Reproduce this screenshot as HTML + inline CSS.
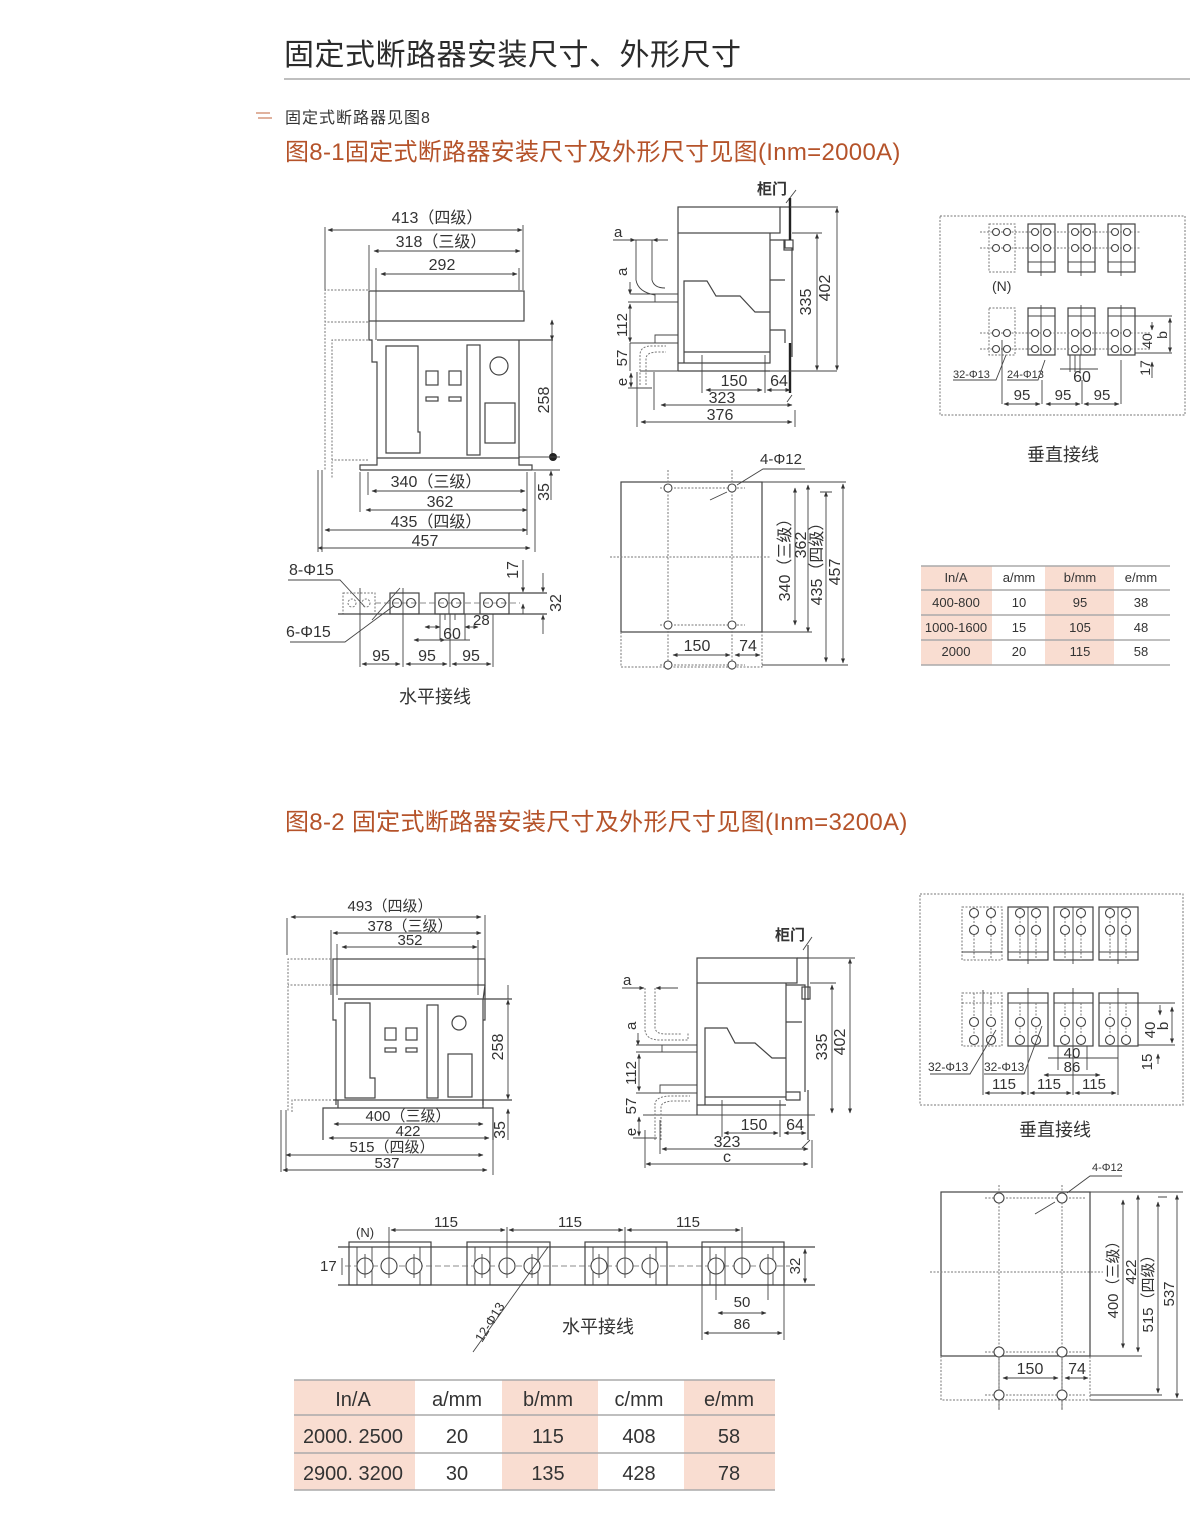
<!DOCTYPE html>
<html><head><meta charset="utf-8"><style>
html,body{margin:0;padding:0;background:#fff}
svg{display:block}
text{font-family:"Liberation Sans","Noto Sans CJK SC",sans-serif;fill:#333}
.l{stroke:#444;stroke-width:1.2;fill:none}
.t{stroke:#444;stroke-width:0.9;fill:none}
.k{stroke:#222;stroke-width:2.4;fill:none}
.dt{stroke:#777;stroke-width:1;fill:none;stroke-dasharray:2 1.5}
.ds{stroke:#666;stroke-width:0.8;fill:none;stroke-dasharray:6 3}
.d{stroke:#444;stroke-width:0.9;fill:none;marker-start:url(#a);marker-end:url(#a)}
.de{stroke:#444;stroke-width:0.9;fill:none;marker-end:url(#a)}
.c{fill:#fff;stroke:#444;stroke-width:1.1}
.pk{fill:#f9ddd1}
</style></head><body>
<svg width="1200" height="1532" viewBox="0 0 1200 1532" xmlns="http://www.w3.org/2000/svg">
<defs>
<marker id="a" viewBox="0 0 10 10" refX="9" refY="5" markerWidth="7" markerHeight="5" orient="auto-start-reverse" markerUnits="userSpaceOnUse"><path d="M0,1 L10,5 L0,9 z" fill="#333"/></marker>
</defs>

<!-- Header -->
<text x="284" y="65" font-size="30" style="fill:#2b2b2b;letter-spacing:0.5px">固定式断路器安装尺寸、外形尺寸</text>
<line x1="284" y1="79" x2="1190" y2="79" stroke="#aaa" stroke-width="1.5"/>
<line x1="256" y1="113" x2="270" y2="113" stroke="#c0663e" stroke-width="1"/>
<line x1="258" y1="118" x2="272" y2="118" stroke="#c0663e" stroke-width="1"/>
<text x="285" y="123" font-size="16" style="letter-spacing:1px">固定式断路器见图8</text>
<text x="285" y="160" font-size="24" style="fill:#b5532a;letter-spacing:0.3px">图8-1固定式断路器安装尺寸及外形尺寸见图(Inm=2000A)</text>

<!-- ===== Front view 1 ===== -->
<g>
<text x="437" y="223" font-size="16" text-anchor="middle">413（四级）</text>
<line class="d" x1="328" y1="230" x2="522" y2="230"/>
<text x="441" y="247" font-size="16" text-anchor="middle">318（三级）</text>
<line class="d" x1="374" y1="251" x2="520" y2="251"/>
<text x="442" y="270" font-size="16" text-anchor="middle">292</text>
<line class="d" x1="381" y1="274" x2="517" y2="274"/>
<line class="t" x1="325" y1="227" x2="325" y2="290"/>
<line class="t" x1="369" y1="245" x2="369" y2="290"/>
<line class="t" x1="376" y1="268" x2="376" y2="340"/>
<line class="t" x1="519" y1="268" x2="519" y2="290"/>
<line class="t" x1="523" y1="225" x2="523" y2="290"/>
<rect class="l" x="369" y="291" width="155" height="30"/>
<path class="l" d="M369,321 V340 L372,340 V362 L377,362 V458 M377,340 H519 V458 M519,340 H553"/>
<path class="l" d="M377,458 H519 L519,465 L532,465 L532,470 M377,458 L377,465 L360,465 L360,470 M360,470 H532"/>
<path class="dt" d="M368,290 H325 V470 M368,322 H325 M368,340 H332 V478 M368,460 H332"/>
<path class="l" d="M386,346 H418 V432 H420 V453 H386 Z"/>
<rect class="l" x="426" y="371" width="12" height="14"/>
<rect class="l" x="449" y="371" width="12" height="14"/>
<rect class="l" x="426" y="397" width="12" height="4"/>
<rect class="l" x="449" y="397" width="12" height="4"/>
<rect class="l" x="467" y="345" width="13" height="110"/>
<circle class="l" cx="499" cy="366" r="9"/>
<rect class="l" x="485" y="403" width="30" height="40"/>
<line class="d" x1="552" y1="320" x2="552" y2="340"/>
<line class="t" x1="552" y1="340" x2="552" y2="458"/>
<circle cx="553" cy="457" r="4" fill="#222"/>
<line class="t" x1="519" y1="457" x2="560" y2="457"/>
<text transform="translate(549,400) rotate(-90)" font-size="16" text-anchor="middle">258</text>
<line class="t" x1="532" y1="470" x2="560" y2="470"/>
<line class="de" x1="551" y1="500" x2="551" y2="471"/>
<text transform="translate(549,492) rotate(-90)" font-size="16" text-anchor="middle">35</text>
<text x="436" y="487" font-size="16" text-anchor="middle">340（三级）</text>
<line class="d" x1="372" y1="491" x2="525" y2="491"/>
<text x="440" y="507" font-size="16" text-anchor="middle">362</text>
<line class="d" x1="366" y1="510" x2="527" y2="510"/>
<text x="436" y="527" font-size="16" text-anchor="middle">435（四级）</text>
<line class="d" x1="325" y1="530" x2="527" y2="530"/>
<text x="425" y="546" font-size="16" text-anchor="middle">457</text>
<line class="d" x1="318" y1="548" x2="530" y2="548"/>
<path class="t" d="M318,470 V552 M322,470 V552 M360,472 V512 M368,472 V495 M527,472 V535 M535,472 V552"/>
</g>

<!-- ===== Horizontal wiring 1 ===== -->
<g>
<text x="289" y="575" font-size="16">8-Φ15</text>
<text x="286" y="637" font-size="16">6-Φ15</text>
<path class="t" d="M288,580 H340 L365,607 M372,620 L400,588 M290,642 H345 L395,605 M345,642 L340,642"/>
<rect class="dt" x="343" y="593" width="32" height="21"/>
<circle class="dt" cx="352" cy="603" r="4"/><circle class="dt" cx="366" cy="603" r="4"/>
<rect class="l" x="390" y="593" width="29" height="21"/>
<circle class="c" cx="397" cy="603" r="4.5"/><circle class="c" cx="411" cy="603" r="4.5"/>
<rect class="l" x="435" y="593" width="29" height="21"/>
<circle class="c" cx="443" cy="603" r="4.5"/><circle class="c" cx="456" cy="603" r="4.5"/>
<line class="t" x1="449" y1="593" x2="449" y2="614"/>
<rect class="l" x="480" y="593" width="29" height="21"/>
<circle class="c" cx="488" cy="603" r="4.5"/><circle class="c" cx="501" cy="603" r="4.5"/>
<line class="ds" x1="375" y1="603" x2="520" y2="603"/>
<path class="l" d="M338,614 H547 M509,593 H547"/>
<path class="t" d="M360,588 V667 M403,588 V667 M450,614 V667 M493,614 V667 M440,614 V640 M465,614 V640 M445,614 V620 M455,614 V620"/>
<line class="d" x1="425" y1="627" x2="440" y2="627"/>
<line class="d" x1="465" y1="627" x2="478" y2="627"/>
<text x="473" y="625" font-size="15">28</text>
<line class="d" x1="414" y1="640" x2="445" y2="640"/>
<text x="452" y="639" font-size="16" text-anchor="middle">60</text>
<line class="t" x1="440" y1="640" x2="470" y2="640"/>
<text x="381" y="661" font-size="16" text-anchor="middle">95</text>
<text x="427" y="661" font-size="16" text-anchor="middle">95</text>
<text x="471" y="661" font-size="16" text-anchor="middle">95</text>
<line class="d" x1="362" y1="664" x2="400" y2="664"/>
<line class="d" x1="406" y1="664" x2="447" y2="664"/>
<line class="d" x1="452" y1="664" x2="491" y2="664"/>
<line class="de" x1="523" y1="560" x2="523" y2="592"/>
<line class="de" x1="523" y1="614" x2="523" y2="604"/>
<text transform="translate(518,570) rotate(-90)" font-size="16" text-anchor="middle">17</text>
<line class="de" x1="543" y1="573" x2="543" y2="592"/>
<line class="de" x1="543" y1="634" x2="543" y2="615"/>
<text transform="translate(561,603) rotate(-90)" font-size="16" text-anchor="middle">32</text>
<text x="435" y="703" font-size="18" text-anchor="middle">水平接线</text>
</g>

<!-- ===== Side view 1 ===== -->
<g>
<text x="757" y="194" font-size="15" font-weight="bold">柜门</text>
<line class="t" x1="786" y1="203" x2="796" y2="190"/>
<rect class="l" x="678" y="207" width="102" height="26"/>
<path class="l" d="M780,207 H790 M780,233 V233"/>
<path class="l" d="M678,233 V363 H770 V233 M678,363 V371 M770,240 H785 V248 H792 V357 M770,240 V280 H785 M770,330 H785 V343 M678,371 H770"/>
<rect class="l" x="784" y="240" width="9" height="10"/>
<line class="k" x1="790" y1="198" x2="790" y2="240"/>
<line class="k" x1="790" y1="343" x2="790" y2="393"/>
<path class="l" d="M684,363 V281 H707 L716,296 H740 L755,312 H770 M684,352 H770"/>
<path class="t" d="M640,371 H837 M790,207 H838 M792,233 H822"/>
<line class="d" x1="837" y1="208" x2="837" y2="370"/>
<text transform="translate(830,288) rotate(-90)" font-size="16" text-anchor="middle">402</text>
<line class="d" x1="817" y1="234" x2="817" y2="370"/>
<text transform="translate(811,302) rotate(-90)" font-size="16" text-anchor="middle">335</text>
<path class="t" d="M702,355 V393 M765,355 V393 M792,395 L787,402"/>
<line class="d" x1="706" y1="390" x2="762" y2="390"/>
<text x="734" y="386" font-size="16" text-anchor="middle">150</text>
<line class="d" x1="767" y1="390" x2="790" y2="390"/>
<text x="779" y="386" font-size="16" text-anchor="middle">64</text>
<line class="d" x1="661" y1="405" x2="792" y2="405"/>
<text x="722" y="403" font-size="16" text-anchor="middle">323</text>
<line class="d" x1="641" y1="422" x2="792" y2="422"/>
<text x="720" y="420" font-size="16" text-anchor="middle">376</text>
<path class="t" d="M654,372 V410 M637,372 V427 M795,410 V427"/>
<path class="t" d="M613,240 H668 M636,240 V280 Q638,292 655,295 M652,240 V280 Q654,288 665,288"/>
<line class="de" x1="613" y1="240" x2="635" y2="240"/>
<line class="de" x1="665" y1="240" x2="653" y2="240"/>
<text x="614" y="237" font-size="15">a</text>
<text transform="translate(627,276) rotate(-90)" font-size="15">a</text>
<line class="de" x1="630" y1="282" x2="630" y2="294"/>
<path class="t" d="M630,294 H655 M628,302 H678 M655,294 H678 V302 M655,302 V294"/>
<line class="d" x1="630" y1="304" x2="630" y2="342"/>
<text transform="translate(627,325) rotate(-90)" font-size="15" text-anchor="middle">112</text>
<path class="t" d="M655,343 H678 V335 H655 Z M630,343 H678 M630,343 V371"/>
<path class="dt" d="M640,385 V355 Q640,346 652,346 H666 M646,385 V358 Q647,352 658,352 H666"/>
<text transform="translate(627,358) rotate(-90)" font-size="15" text-anchor="middle">57</text>
<line class="d" x1="631" y1="373" x2="631" y2="387"/>
<text transform="translate(627,382) rotate(-90)" font-size="15" text-anchor="middle">e</text>
<path class="t" d="M628,388 H652"/>
</g>

<!-- ===== Plan view 1 ===== -->
<g>
<text x="760" y="464" font-size="15">4-Φ12</text>
<path class="t" d="M805,469 H763 L737,485 M710,500 L727,492"/>
<rect class="l" x="621" y="482" width="141" height="150"/>
<path class="t" d="M762,482 H846 M762,632 H812"/>
<path class="dt" d="M621,632 V667 H762 V632 M668,470 V670 M732,470 V670 M610,557 H770 M660,488 H745 M660,625 H745 M660,665 H745"/>
<circle class="c" cx="668" cy="488" r="4"/><circle class="c" cx="732" cy="488" r="4"/>
<circle class="c" cx="668" cy="625" r="4"/><circle class="c" cx="732" cy="625" r="4"/>
<circle class="c" cx="668" cy="665" r="4"/><circle class="c" cx="732" cy="665" r="4"/>
<line class="d" x1="795" y1="488" x2="795" y2="625"/>
<line class="d" x1="808" y1="485" x2="808" y2="632"/>
<line class="d" x1="826" y1="492" x2="826" y2="662"/>
<line class="d" x1="843" y1="484" x2="843" y2="663"/>
<path class="t" d="M762,665 H848 M820,492 H832"/>
<text transform="translate(790,556) rotate(-90)" font-size="16" text-anchor="middle">340（三级）</text>
<text transform="translate(806,545) rotate(-90)" font-size="16" text-anchor="middle">362</text>
<text transform="translate(822,560) rotate(-90)" font-size="16" text-anchor="middle">435（四级）</text>
<text transform="translate(840,572) rotate(-90)" font-size="16" text-anchor="middle">457</text>
<line class="d" x1="673" y1="655" x2="730" y2="655"/>
<text x="697" y="651" font-size="16" text-anchor="middle">150</text>
<line class="d" x1="735" y1="655" x2="760" y2="655"/>
<text x="748" y="651" font-size="16" text-anchor="middle">74</text>
</g>

<!-- ===== Vertical wiring 1 ===== -->
<g>
<rect class="dt" x="940" y="216" width="245" height="199"/>
<rect class="dt" x="989" y="224" width="26" height="48"/>
<rect class="l" x="1028" y="224" width="27" height="48"/>
<rect class="l" x="1068" y="224" width="27" height="48"/>
<rect class="l" x="1108" y="224" width="27" height="48"/>
<path class="t" d="M1028,262 H1055 M1068,262 H1095 M1108,262 H1135 M1041,224 V276 M1081,224 V276 M1121,224 V276"/>
<path class="dt" d="M980,232 H1140 M980,248 H1140"/>
<g class="c">
<circle cx="996" cy="232" r="3.5"/><circle cx="1007" cy="232" r="3.5"/><circle cx="996" cy="248" r="3.5"/><circle cx="1007" cy="248" r="3.5"/>
<circle cx="1035" cy="232" r="3.5"/><circle cx="1047" cy="232" r="3.5"/><circle cx="1035" cy="248" r="3.5"/><circle cx="1047" cy="248" r="3.5"/>
<circle cx="1075" cy="232" r="3.5"/><circle cx="1087" cy="232" r="3.5"/><circle cx="1075" cy="248" r="3.5"/><circle cx="1087" cy="248" r="3.5"/>
<circle cx="1115" cy="232" r="3.5"/><circle cx="1127" cy="232" r="3.5"/><circle cx="1115" cy="248" r="3.5"/><circle cx="1127" cy="248" r="3.5"/>
</g>
<text x="992" y="291" font-size="14">(N)</text>
<rect class="dt" x="989" y="308" width="26" height="47"/>
<rect class="l" x="1028" y="308" width="27" height="47"/>
<rect class="l" x="1068" y="308" width="27" height="47"/>
<rect class="l" x="1108" y="308" width="27" height="47"/>
<path class="t" d="M1028,316 H1055 M1068,316 H1095 M1108,316 H1135 M1041,305 V355 M1081,305 V355 M1121,305 V355 M1135,316 H1172 M1135,353 H1172"/>
<path class="dt" d="M980,333 H1150 M980,349 H1150"/>
<g class="c">
<circle cx="996" cy="333" r="3.5"/><circle cx="1007" cy="333" r="3.5"/><circle cx="996" cy="349" r="3.5"/><circle cx="1007" cy="349" r="3.5"/>
<circle cx="1035" cy="333" r="3.5"/><circle cx="1047" cy="333" r="3.5"/><circle cx="1035" cy="349" r="3.5"/><circle cx="1047" cy="349" r="3.5"/>
<circle cx="1075" cy="333" r="3.5"/><circle cx="1087" cy="333" r="3.5"/><circle cx="1075" cy="349" r="3.5"/><circle cx="1087" cy="349" r="3.5"/>
<circle cx="1115" cy="333" r="3.5"/><circle cx="1127" cy="333" r="3.5"/><circle cx="1115" cy="349" r="3.5"/><circle cx="1127" cy="349" r="3.5"/>
</g>
<line class="d" x1="1170" y1="318" x2="1170" y2="352"/>
<text transform="translate(1167,335) rotate(-90)" font-size="14" text-anchor="middle">b</text>
<text transform="translate(1152,341) rotate(-90)" font-size="14" text-anchor="middle">40</text>
<line class="de" x1="1152" y1="322" x2="1152" y2="330"/>
<text transform="translate(1150,368) rotate(-90)" font-size="14" text-anchor="middle">17</text>
<line class="de" x1="1152" y1="378" x2="1152" y2="362"/>
<text x="953" y="378" font-size="11">32-Φ13</text>
<text x="1007" y="378" font-size="11">24-Φ13</text>
<path class="t" d="M953,380 H996 L1006,355 M1007,380 H1038 L1045,360 M1060,369 H1098 M1070,355 V372 M1075,355 V372 M1080,355 V372"/>
<text x="1082" y="382" font-size="16" text-anchor="middle">60</text>
<path class="t" d="M1002,340 V404 M1042,380 V404 M1082,380 V404 M1121,360 V404"/>
<line class="d" x1="1004" y1="404" x2="1040" y2="404"/>
<line class="d" x1="1046" y1="404" x2="1080" y2="404"/>
<line class="d" x1="1084" y1="404" x2="1119" y2="404"/>
<text x="1022" y="400" font-size="15" text-anchor="middle">95</text>
<text x="1063" y="400" font-size="15" text-anchor="middle">95</text>
<text x="1102" y="400" font-size="15" text-anchor="middle">95</text>
<text x="1063" y="461" font-size="18" text-anchor="middle">垂直接线</text>
</g>

<!-- ===== Table 1 ===== -->
<g font-size="13">
<rect class="pk" x="921" y="566" width="71" height="99"/>
<rect class="pk" x="1045" y="566" width="69" height="99"/>
<g stroke="#aaa" stroke-width="1.5">
<line x1="921" y1="566" x2="1170" y2="566"/><line x1="921" y1="590" x2="1170" y2="590"/>
<line x1="921" y1="615" x2="1170" y2="615"/><line x1="921" y1="640" x2="1170" y2="640"/>
<line x1="921" y1="665" x2="1170" y2="665"/></g>
<text x="956" y="582" text-anchor="middle" font-size="13">In/A</text><text x="1019" y="582" text-anchor="middle" font-size="13">a/mm</text><text x="1080" y="582" text-anchor="middle" font-size="13">b/mm</text><text x="1141" y="582" text-anchor="middle" font-size="13">e/mm</text>
<text x="956" y="607" text-anchor="middle" font-size="13">400-800</text><text x="1019" y="607" text-anchor="middle" font-size="13">10</text><text x="1080" y="607" text-anchor="middle" font-size="13">95</text><text x="1141" y="607" text-anchor="middle" font-size="13">38</text>
<text x="956" y="632" text-anchor="middle" font-size="13">1000-1600</text><text x="1019" y="632" text-anchor="middle" font-size="13">15</text><text x="1080" y="632" text-anchor="middle" font-size="13">105</text><text x="1141" y="632" text-anchor="middle" font-size="13">48</text>
<text x="956" y="656" text-anchor="middle" font-size="13">2000</text><text x="1019" y="656" text-anchor="middle" font-size="13">20</text><text x="1080" y="656" text-anchor="middle" font-size="13">115</text><text x="1141" y="656" text-anchor="middle" font-size="13">58</text>
</g>

<!-- ===== Section 2 ===== -->
<text x="285" y="830" font-size="24" style="fill:#b5532a;letter-spacing:0.3px">图8-2 固定式断路器安装尺寸及外形尺寸见图(Inm=3200A)</text>

<!-- Front view 2 -->
<g>
<text x="390" y="911" font-size="15" text-anchor="middle">493（四级）</text>
<line class="d" x1="291" y1="917" x2="481" y2="917"/>
<text x="410" y="931" font-size="15" text-anchor="middle">378（三级）</text>
<line class="d" x1="333" y1="933" x2="481" y2="933"/>
<text x="410" y="945" font-size="15" text-anchor="middle">352</text>
<line class="d" x1="342" y1="947" x2="477" y2="947"/>
<path class="t" d="M287,918 V955 M331,930 V995 M337,944 V995 M478,940 V995 M485,915 V960"/>
<rect class="l" x="333" y="959" width="152" height="26"/>
<path class="l" d="M333,985 V1020 L336,1020 V1105 M338,999 H483 V1105 M483,1000 L485,985 M485,985 V1020 H483 M333,1100 H485 M483,999 H512 M483,1100 H512"/>
<path class="l" d="M338,1100 V1108 H323 V1140 M483,1100 V1108 H493 V1140 M323,1108 H493"/>
<path class="dt" d="M331,959 H288 V1112 M331,985 H288 M331,1100 H292 V1112"/>
<path class="t" d="M281,1110 V1172 M286,1110 V1172 M493,1110 V1175"/>
<path class="l" d="M345,1003 H370 V1078 H375 V1098 H345 Z"/>
<rect class="l" x="385" y="1028" width="11" height="12"/>
<rect class="l" x="406" y="1028" width="11" height="12"/>
<rect class="l" x="385" y="1048" width="11" height="4"/>
<rect class="l" x="406" y="1048" width="11" height="4"/>
<rect class="l" x="427" y="1005" width="11" height="93"/>
<circle class="l" cx="459" cy="1023" r="7"/>
<rect class="l" x="448" y="1054" width="24" height="43"/>
<line class="d" x1="508" y1="1000" x2="508" y2="1099"/>
<line class="t" x1="508" y1="985" x2="508" y2="999"/>
<text transform="translate(503,1047) rotate(-90)" font-size="16" text-anchor="middle">258</text>
<line class="de" x1="508" y1="1140" x2="508" y2="1109"/>
<text transform="translate(505,1130) rotate(-90)" font-size="16" text-anchor="middle">35</text>
<text x="408" y="1121" font-size="15" text-anchor="middle">400（三级）</text>
<line class="d" x1="334" y1="1124" x2="483" y2="1124"/>
<text x="408" y="1136" font-size="15" text-anchor="middle">422</text>
<line class="d" x1="329" y1="1138" x2="489" y2="1138"/>
<text x="392" y="1152" font-size="15" text-anchor="middle">515（四级）</text>
<line class="d" x1="286" y1="1155" x2="483" y2="1155"/>
<text x="387" y="1168" font-size="15" text-anchor="middle">537</text>
<line class="d" x1="283" y1="1170" x2="487" y2="1170"/>
</g>

<!-- Side view 2 -->
<g>
<text x="775" y="940" font-size="15" font-weight="bold">柜门</text>
<line class="t" x1="803" y1="950" x2="812" y2="937"/>
<rect class="l" x="697" y="958" width="100" height="25"/>
<path class="l" d="M797,958 H808 M697,983 V1115 M786,983 V1100 M697,1105 H786 M786,985 H805 V1092 M786,1022 H802 M786,1092 H800 V1100 H786"/>
<rect class="l" x="802" y="987" width="8" height="12"/>
<line class="l" x1="808" y1="945" x2="808" y2="1000"/>
<line class="l" x1="808" y1="1090" x2="808" y2="1140"/>
<path class="l" d="M705,1105 V1028 H727 L735,1043 H755 L772,1058 H786 M705,1097 H786"/>
<path class="t" d="M643,1115 H815 M808,958 H855 M810,983 H836"/>
<line class="d" x1="850" y1="959" x2="850" y2="1113"/>
<text transform="translate(845,1042) rotate(-90)" font-size="16" text-anchor="middle">402</text>
<line class="d" x1="832" y1="985" x2="832" y2="1113"/>
<text transform="translate(827,1047) rotate(-90)" font-size="16" text-anchor="middle">335</text>
<path class="t" d="M722,1100 V1137 M780,1100 V1137 M810,1140 L802,1148 M660,1120 V1154 M645,1130 V1168 M812,1140 V1168"/>
<line class="d" x1="724" y1="1133" x2="778" y2="1133"/>
<text x="754" y="1130" font-size="16" text-anchor="middle">150</text>
<line class="d" x1="784" y1="1133" x2="806" y2="1133"/>
<text x="795" y="1130" font-size="16" text-anchor="middle">64</text>
<line class="d" x1="662" y1="1149" x2="808" y2="1149"/>
<text x="727" y="1147" font-size="16" text-anchor="middle">323</text>
<line class="d" x1="646" y1="1164" x2="808" y2="1164"/>
<text x="727" y="1162" font-size="16" text-anchor="middle">c</text>
<path class="dt" d="M645,988 V1030 Q646,1040 660,1040 H688 V1033 M655,988 V1028 Q656,1034 665,1034 H682"/>
<line class="de" x1="622" y1="988" x2="644" y2="988"/>
<line class="de" x1="678" y1="988" x2="656" y2="988"/>
<text x="623" y="985" font-size="15">a</text>
<text transform="translate(636,1030) rotate(-90)" font-size="15">a</text>
<line class="de" x1="638" y1="1033" x2="638" y2="1045"/>
<path class="t" d="M636,1045 H697 M636,1052 H697 M662,1045 V1052"/>
<line class="d" x1="639" y1="1054" x2="639" y2="1091"/>
<text transform="translate(636,1073) rotate(-90)" font-size="15" text-anchor="middle">112</text>
<path class="t" d="M660,1093 V1085 H697 M636,1093 H697"/>
<path class="dt" d="M655,1140 V1103 Q657,1096 672,1096 H690 M661,1140 V1106 Q663,1101 675,1101 H690"/>
<text transform="translate(636,1106) rotate(-90)" font-size="15" text-anchor="middle">57</text>
<line class="d" x1="639" y1="1117" x2="639" y2="1136"/>
<text transform="translate(636,1132) rotate(-90)" font-size="15" text-anchor="middle">e</text>
<path class="t" d="M633,1138 H657"/>
</g>

<!-- Horizontal wiring 2 -->
<g>
<path class="l" d="M338,1247 H815 M338,1285 H815"/>
<rect class="l" x="349" y="1242" width="82" height="43"/>
<rect class="l" x="467" y="1242" width="83" height="43"/>
<rect class="l" x="585" y="1242" width="82" height="43"/>
<rect class="l" x="702" y="1242" width="82" height="43"/>
<path class="t" d="M357,1247 V1285 M372,1247 V1285 M420,1247 V1285 M475,1247 V1285 M490,1247 V1285 M538,1247 V1285 M593,1247 V1285 M608,1247 V1285 M656,1247 V1285 M710,1247 V1285 M725,1247 V1285 M773,1247 V1285"/>
<line class="ds" x1="345" y1="1266" x2="790" y2="1266"/>
<g class="c">
<circle cx="365" cy="1266" r="8"/><circle cx="389" cy="1266" r="8"/><circle cx="414" cy="1266" r="8"/>
<circle cx="482" cy="1266" r="8"/><circle cx="507" cy="1266" r="8"/><circle cx="532" cy="1266" r="8"/>
<circle cx="599" cy="1266" r="8"/><circle cx="625" cy="1266" r="8"/><circle cx="650" cy="1266" r="8"/>
<circle cx="716" cy="1266" r="8"/><circle cx="742" cy="1266" r="8"/><circle cx="768" cy="1266" r="8"/>
</g>
<path class="t" d="M365,1254 V1278 M389,1227 V1278 M414,1254 V1278 M482,1254 V1278 M507,1227 V1278 M532,1254 V1278 M599,1254 V1278 M625,1227 V1278 M650,1254 V1278 M716,1254 V1300 M742,1227 V1278 M768,1254 V1300 M784,1285 V1340 M702,1285 V1340"/>
<line class="d" x1="391" y1="1230" x2="505" y2="1230"/>
<line class="d" x1="509" y1="1230" x2="623" y2="1230"/>
<line class="d" x1="627" y1="1230" x2="740" y2="1230"/>
<text x="446" y="1227" font-size="15" text-anchor="middle">115</text>
<text x="570" y="1227" font-size="15" text-anchor="middle">115</text>
<text x="688" y="1227" font-size="15" text-anchor="middle">115</text>
<text x="356" y="1237" font-size="13">(N)</text>
<text x="320" y="1271" font-size="15">17</text>
<line class="t" x1="342" y1="1258" x2="342" y2="1275"/>
<line class="d" x1="805" y1="1249" x2="805" y2="1283"/>
<text transform="translate(800,1266) rotate(-90)" font-size="15" text-anchor="middle">32</text>
<line class="d" x1="718" y1="1313" x2="766" y2="1313"/>
<text x="742" y="1307" font-size="15" text-anchor="middle">50</text>
<line class="d" x1="704" y1="1333" x2="782" y2="1333"/>
<text x="742" y="1329" font-size="15" text-anchor="middle">86</text>
<path class="t" d="M473,1352 L548,1247"/>
<text transform="translate(482,1343) rotate(-58)" font-size="13">12-Φ13</text>
<text x="598" y="1333" font-size="18" text-anchor="middle">水平接线</text>
</g>

<!-- Table 2 -->
<g>
<rect class="pk" x="294" y="1380" width="121" height="110"/>
<rect class="pk" x="502" y="1380" width="96" height="110"/>
<rect class="pk" x="684" y="1380" width="91" height="110"/>
<g stroke="#aaa" stroke-width="1.5">
<line x1="294" y1="1380" x2="775" y2="1380"/><line x1="294" y1="1415" x2="775" y2="1415"/>
<line x1="294" y1="1453" x2="775" y2="1453"/><line x1="294" y1="1490" x2="775" y2="1490"/></g>
<text x="353" y="1406" font-size="20" text-anchor="middle">In/A</text><text x="457" y="1406" font-size="20" text-anchor="middle">a/mm</text><text x="548" y="1406" font-size="20" text-anchor="middle">b/mm</text><text x="639" y="1406" font-size="20" text-anchor="middle">c/mm</text><text x="729" y="1406" font-size="20" text-anchor="middle">e/mm</text>
<text x="353" y="1443" font-size="20" text-anchor="middle">2000. 2500</text><text x="457" y="1443" font-size="20" text-anchor="middle">20</text><text x="548" y="1443" font-size="20" text-anchor="middle">115</text><text x="639" y="1443" font-size="20" text-anchor="middle">408</text><text x="729" y="1443" font-size="20" text-anchor="middle">58</text>
<text x="353" y="1480" font-size="20" text-anchor="middle">2900. 3200</text><text x="457" y="1480" font-size="20" text-anchor="middle">30</text><text x="548" y="1480" font-size="20" text-anchor="middle">135</text><text x="639" y="1480" font-size="20" text-anchor="middle">428</text><text x="729" y="1480" font-size="20" text-anchor="middle">78</text>
</g>

<!-- Vertical wiring 2 -->
<g>
<rect class="dt" x="920" y="894" width="263" height="211"/>
<rect class="dt" x="962" y="907" width="40" height="53"/>
<rect class="l" x="1008" y="907" width="40" height="53"/>
<rect class="l" x="1054" y="907" width="39" height="53"/>
<rect class="l" x="1099" y="907" width="39" height="53"/>
<path class="t" d="M1008,952 H1048 M1054,952 H1093 M1099,952 H1138 M962,952 H1002 M1028,907 V964 M1073,907 V964 M1118,907 V964"/>
<path class="dt" d="M974,907 V960 M991,907 V960 M1020,907 V960 M1036,907 V960 M1065,907 V960 M1081,907 V960 M1110,907 V960 M1126,907 V960"/>
<g class="c">
<circle cx="974" cy="913" r="4.5"/><circle cx="991" cy="913" r="4.5"/><circle cx="974" cy="930" r="4.5"/><circle cx="991" cy="930" r="4.5"/>
<circle cx="1020" cy="913" r="4.5"/><circle cx="1036" cy="913" r="4.5"/><circle cx="1020" cy="930" r="4.5"/><circle cx="1036" cy="930" r="4.5"/>
<circle cx="1065" cy="913" r="4.5"/><circle cx="1081" cy="913" r="4.5"/><circle cx="1065" cy="930" r="4.5"/><circle cx="1081" cy="930" r="4.5"/>
<circle cx="1110" cy="913" r="4.5"/><circle cx="1126" cy="913" r="4.5"/><circle cx="1110" cy="930" r="4.5"/><circle cx="1126" cy="930" r="4.5"/>
</g>
<rect class="dt" x="962" y="993" width="40" height="53"/>
<rect class="l" x="1008" y="993" width="40" height="53"/>
<rect class="l" x="1054" y="993" width="39" height="53"/>
<rect class="l" x="1099" y="993" width="39" height="53"/>
<path class="t" d="M1008,1003 H1048 M1054,1003 H1093 M1099,1003 H1175 M1138,1045 H1175 M983,990 V1095 M1028,988 V1095 M1073,988 V1095 M1118,988 V1095"/>
<path class="dt" d="M962,1003 H1002 M974,993 V1046 M991,993 V1046 M1020,1003 V1046 M1036,1003 V1046 M1065,1003 V1046 M1081,1003 V1046 M1110,1003 V1046 M1126,1003 V1046"/>
<g class="c">
<circle cx="974" cy="1022" r="4.5"/><circle cx="991" cy="1022" r="4.5"/><circle cx="974" cy="1040" r="4.5"/><circle cx="991" cy="1040" r="4.5"/>
<circle cx="1020" cy="1022" r="4.5"/><circle cx="1036" cy="1022" r="4.5"/><circle cx="1020" cy="1040" r="4.5"/><circle cx="1036" cy="1040" r="4.5"/>
<circle cx="1065" cy="1022" r="4.5"/><circle cx="1081" cy="1022" r="4.5"/><circle cx="1065" cy="1040" r="4.5"/><circle cx="1081" cy="1040" r="4.5"/>
<circle cx="1110" cy="1022" r="4.5"/><circle cx="1126" cy="1022" r="4.5"/><circle cx="1110" cy="1040" r="4.5"/><circle cx="1126" cy="1040" r="4.5"/>
</g>
<line class="d" x1="1172" y1="1007" x2="1172" y2="1043"/>
<text transform="translate(1168,1026) rotate(-90)" font-size="15" text-anchor="middle">b</text>
<text transform="translate(1155,1030) rotate(-90)" font-size="15" text-anchor="middle">40</text>
<line class="de" x1="1160" y1="1005" x2="1160" y2="1015"/>
<text transform="translate(1152,1062) rotate(-90)" font-size="15" text-anchor="middle">15</text>
<line class="de" x1="1158" y1="1064" x2="1158" y2="1054"/>
<text x="928" y="1071" font-size="12">32-Φ13</text>
<text x="984" y="1071" font-size="12">32-Φ13</text>
<path class="t" d="M930,1074 H970 L996,1030 M984,1074 H1024 L1042,1026 M1058,1046 V1070 M1087,1046 V1070 M1048,1058 H1118"/>
<text x="1072" y="1058" font-size="15" text-anchor="middle">40</text>
<text x="1072" y="1072" font-size="15" text-anchor="middle">86</text>
<line class="d" x1="1044" y1="1075" x2="1100" y2="1075"/>
<line class="d" x1="985" y1="1093" x2="1026" y2="1093"/>
<line class="d" x1="1030" y1="1093" x2="1071" y2="1093"/>
<line class="d" x1="1075" y1="1093" x2="1116" y2="1093"/>
<text x="1004" y="1089" font-size="15" text-anchor="middle">115</text>
<text x="1049" y="1089" font-size="15" text-anchor="middle">115</text>
<text x="1094" y="1089" font-size="15" text-anchor="middle">115</text>
<text x="1055" y="1136" font-size="18" text-anchor="middle">垂直接线</text>
</g>

<!-- Plan view 2 -->
<g>
<text x="1092" y="1171" font-size="11">4-Φ12</text>
<path class="t" d="M1122,1176 H1090 L1067,1193 M1035,1214 L1055,1202"/>
<rect class="l" x="941" y="1192" width="149" height="164"/>
<path class="t" d="M1090,1192 H1183 M1090,1356 H1142 M1090,1395 H1162 M1090,1400 H1183 M1158,1197 H1167 M999,1352 V1410 M1062,1352 V1410"/>
<path class="dt" d="M941,1356 V1400 H1090 V1356 M999,1185 V1410 M1062,1185 V1410 M930,1272 H1103 M985,1198 H1085 M985,1352 H1085 M985,1395 H1085"/>
<circle class="c" cx="999" cy="1198" r="5"/><circle class="c" cx="1062" cy="1198" r="5"/>
<circle class="c" cx="999" cy="1352" r="5"/><circle class="c" cx="1062" cy="1352" r="5"/>
<circle class="c" cx="999" cy="1395" r="5"/><circle class="c" cx="1062" cy="1395" r="5"/>
<line class="d" x1="1123" y1="1200" x2="1123" y2="1348"/>
<line class="d" x1="1138" y1="1195" x2="1138" y2="1352"/>
<line class="d" x1="1158" y1="1202" x2="1158" y2="1393"/>
<line class="d" x1="1177" y1="1195" x2="1177" y2="1398"/>
<text transform="translate(1118,1276) rotate(-90)" font-size="15" text-anchor="middle">400（三级）</text>
<text transform="translate(1136,1272) rotate(-90)" font-size="15" text-anchor="middle">422</text>
<text transform="translate(1153,1290) rotate(-90)" font-size="15" text-anchor="middle">515（四级）</text>
<text transform="translate(1174,1294) rotate(-90)" font-size="15" text-anchor="middle">537</text>
<line class="d" x1="1003" y1="1378" x2="1058" y2="1378"/>
<text x="1030" y="1374" font-size="16" text-anchor="middle">150</text>
<line class="d" x1="1065" y1="1378" x2="1088" y2="1378"/>
<text x="1077" y="1374" font-size="16" text-anchor="middle">74</text>
</g>
</svg>
</body></html>
